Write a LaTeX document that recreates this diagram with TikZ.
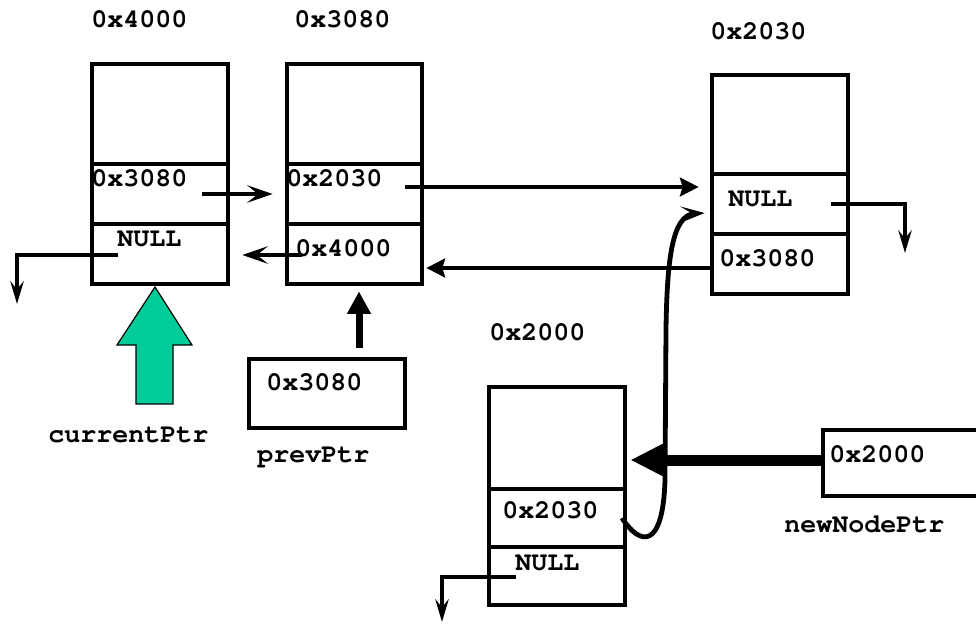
\documentclass[tikz,border=0pt]{standalone}
\usepackage[T1]{fontenc}
\usetikzlibrary{arrows.meta,fit,calc}
\definecolor{ptrgreen}{HTML}{00CC99}
\tikzset{
  field/.style={draw, line width=3.5pt, inner sep=0pt, fit={#1}},
  lbl/.style={anchor=base west, inner sep=0pt,
    font=\fontfamily{pcr}\fontseries{b}\fontsize{20}{24}\selectfont},
  link/.style={line width=3.6pt},
  barb/.style={link, -{Stealth[length=19pt,width=13pt,inset=8pt]}},
  solidtip/.style={link, -{Stealth[length=14pt,width=14pt,inset=2pt]}},
  downtip/.style={link, -{Stealth[length=17pt,width=10pt,inset=6pt]}},
}
\begin{document}
\begin{tikzpicture}[x=0.75pt,y=-0.75pt]
\clip (0,0) rectangle (976,624);
\fill[white] (0,0) rectangle (976,624);

% address labels above the list nodes
\node[lbl] (la) at (91,28) {0x4000};
\node[lbl] (lb) at (294,28) {0x3080};
\node[lbl] (lc) at (710,40) {0x2030};
\node[lbl] (ld) at (489,341) {0x2000};

% field contents
\node[lbl] (ta2) at (91,187) {0x3080};
\node[lbl] (ta3) at (117,247) {NULL};
\node[lbl] (tb2) at (286,187) {0x2030};
\node[lbl] (tb3) at (295,257) {0x4000};
\node[lbl] (tc2) at (728,207) {NULL};
\node[lbl] (tc3) at (719,267) {0x3080};
\node[lbl] (td2) at (502,518) {0x2030};
\node[lbl] (td3) at (515,570) {NULL};
\node[lbl] (tpp) at (266,391) {0x3080};
\node[lbl] (tnn) at (829,462) {0x2000};

% pointer names
\node[lbl] (ncur) at (48,442) {currentPtr};
\node[lbl] (nprev) at (257,462) {prevPtr};
\node[lbl] (nnew) at (784,532) {newNodePtr};

% list node at 0x4000
\node[field={(92,64) (228,164)}] (a1) {};
\node[field={(92,164) (228,224)}] (a2) {};
\node[field={(92,224) (228,284)}] (a3) {};
% list node at 0x3080
\node[field={(287,64) (422,164)}] (b1) {};
\node[field={(287,164) (422,224)}] (b2) {};
\node[field={(287,224) (422,284)}] (b3) {};
% list node at 0x2030
\node[field={(712,75) (848,174)}] (c1) {};
\node[field={(712,174) (848,234)}] (c2) {};
\node[field={(712,234) (848,294)}] (c3) {};
% new list node at 0x2000
\node[field={(489,387) (625,489)}] (d1) {};
\node[field={(489,489) (625,547)}] (d2) {};
\node[field={(489,547) (625,605)}] (d3) {};
% pointer variables
\node[field={(249,359) (405,428)}] (pp) {};
\node[field={(823,430) (995,496)}] (nn) {};

% link start points
\coordinate (a2p) at (202,194);
\coordinate (b2p) at (405,187);
\coordinate (b3p) at (302,255);
\coordinate (c3p) at (712,268);
\coordinate (a3p) at (118,255);
\coordinate (a3n) at (17,304);
\coordinate (c2p) at (831,204);
\coordinate (c2n) at (905,253);
\coordinate (d3p) at (516,577);
\coordinate (d3n) at (442,622);
\coordinate (d2p) at (622,518);
\coordinate (ppt) at (359,348);
\coordinate (nnp) at (823,460);

% next / prev links
\draw[barb] (a2p) -- ($(b2.west |- a2p)+(-12,0)$);
\draw[barb] (b3p) -- ($(a3.east |- b3p)+(12,0)$);
\draw[solidtip] (b2p) -- ($(c2.west |- b2p)+(-11,0)$);
\draw[solidtip] (c3p) -- ($(b3.east |- c3p)+(2,0)$);

% NULL links
\draw[downtip] (a3p) -| (a3n);
\draw[downtip] (c2p) -| (c2n);
\draw[downtip] (d3p) -| (d3n);

% new node's next link, curving up to the 0x2030 node
\draw[link, -{Stealth[length=18pt,width=12pt,inset=9pt]}]
  (d2p) .. controls (640,546) and (663,550) .. (665,480)
  -- (666,330) .. controls (667,260) and (672,215) .. ($(c2.west)+(-5,9)$);

% currentPtr block arrow
\coordinate (curtip) at (155,287);
\draw[line width=0.9pt, fill=ptrgreen] (curtip) -- (192,345) -- (173,345) -- (173,404)
  -- (136,404) -- (136,345) -- (117,345) -- cycle;

% prevPtr arrow
\draw[line width=5.25pt, -{Triangle[length=17pt,width=17pt]}]
  (ppt) -- ($(ppt |- b3.south)+(0,5)$);

% newNodePtr arrow
\draw[line width=8.25pt, -{Triangle[length=26pt,width=24pt]}]
  (nnp) -- ($(d1.east |- nnp)+(3,0)$);
\end{tikzpicture}
\end{document}
